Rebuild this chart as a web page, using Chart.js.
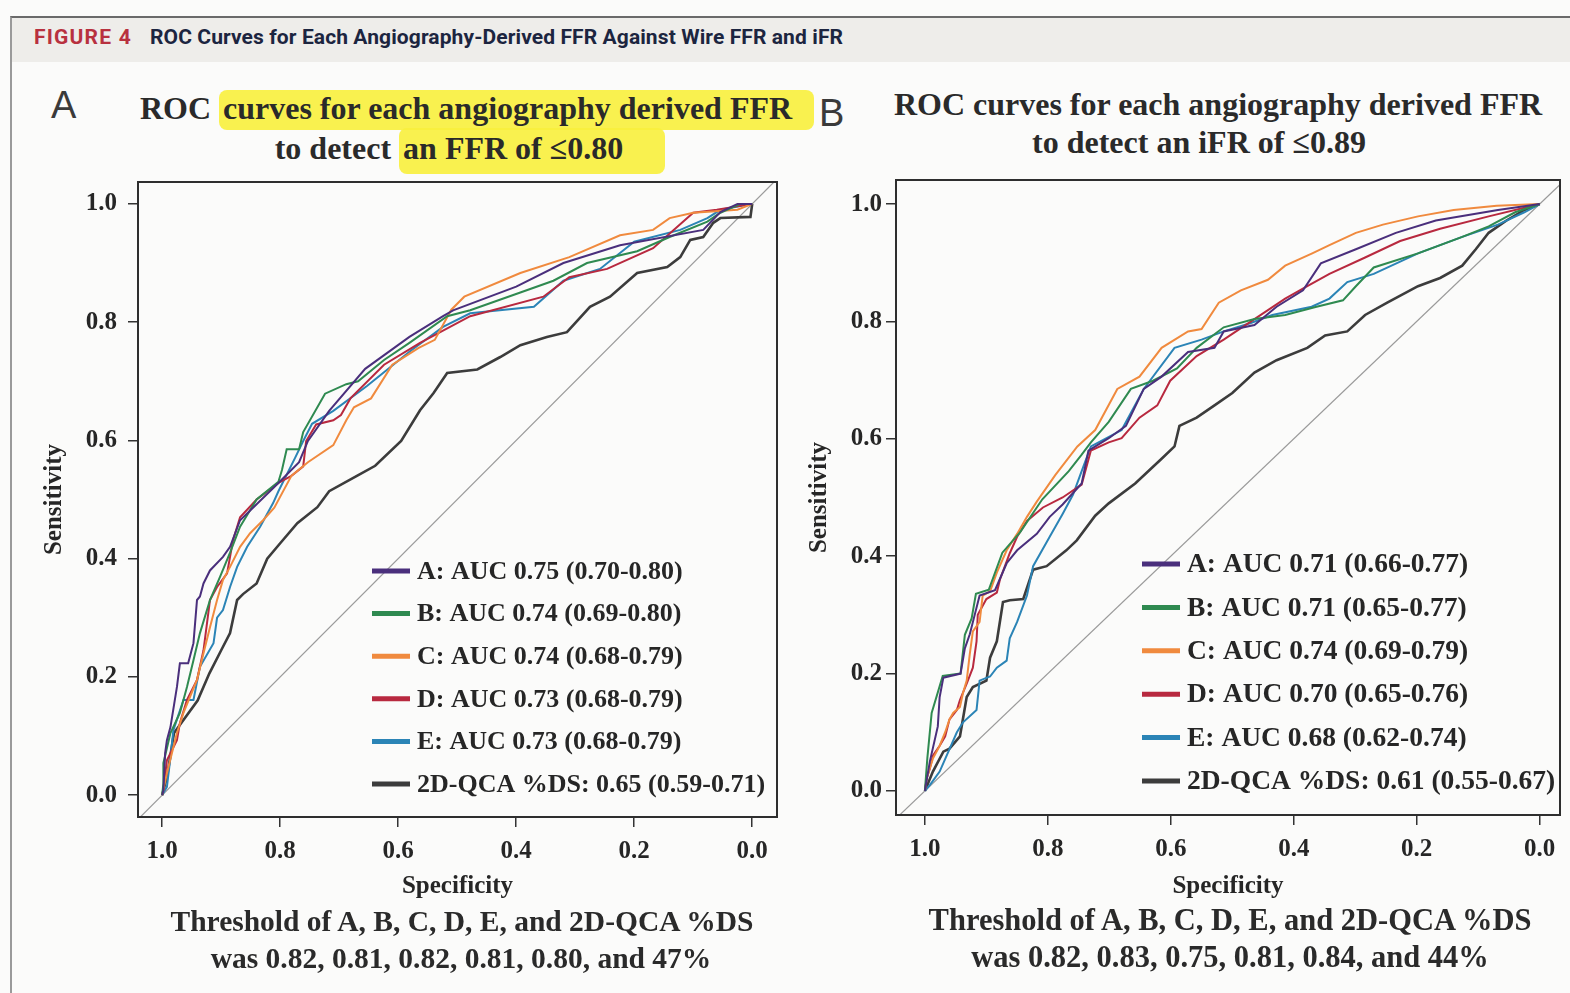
<!DOCTYPE html>
<html>
<head>
<meta charset="utf-8">
<script src="https://cdn.jsdelivr.net/npm/chart.js@4"></script>
<style>
  body { margin: 0; width: 1570px; height: 993px; background: #fbfbfa; position: relative; overflow: hidden; }
  .frame { position: absolute; left: 10px; top: 16px; right: 0; bottom: 0; border-left: 2px solid #9a9a9a; border-top: 2px solid #6a6a6a; }
  .band { position: absolute; left: 12px; top: 18px; right: 0; height: 44px; background: #eeedea; }
  .fig { position: absolute; top: 24px; font-family: Roboto, sans-serif; font-weight: 700; font-size: 21px; line-height: 26px; }
  .panel-lab { position: absolute; font-family: "Liberation Sans", Arial, sans-serif; font-size: 38px; color: #3a3a3a; line-height: 40px; }
  .ttl { position: absolute; width: 900px; text-align: center; font-family: "Liberation Serif", serif; font-weight: 700; font-size: 32px; line-height: 38px; color: #2a2a2a; white-space: nowrap; }
  .hl { background: rgba(248, 240, 60, 0.9); border-radius: 8px; }
  .note { position: absolute; width: 900px; text-align: center; font-family: "Liberation Serif", serif; font-weight: 700; font-size: 29.5px; line-height: 34px; color: #2a2a2a; white-space: nowrap; }
  .wrap { position: absolute; }
</style>
</head>
<body>
<div class="band"></div>
<div class="frame"></div>
<div class="fig" style="left:34px;color:#b8313f;letter-spacing:1.2px;">FIGURE 4</div>
<div class="fig" style="left:150px;color:#1c2540;letter-spacing:0.1px;">ROC Curves for Each Angiography-Derived FFR Against Wire FFR and iFR</div>

<div class="panel-lab" style="left:51px;top:85px;">A</div>
<div class="panel-lab" style="left:819px;top:93px;">B</div>

<div class="ttl" style="left:27px;top:89px;">ROC <span class="hl" style="padding:0 22px 4px 4px;">curves for each angiography derived FFR</span></div>
<div class="ttl" style="left:20px;top:129px;">to detect <span class="hl" style="padding:2px 42px 8px 4px;">an FFR of ≤0.80</span></div>
<div class="ttl" style="left:768px;top:85px;">ROC curves for each angiography derived FFR</div>
<div class="ttl" style="left:749px;top:123px;">to detect an iFR of ≤0.89</div>

<div class="wrap" style="left:20px;top:170px;width:780px;height:740px;"><canvas id="chartA"></canvas></div>
<div class="wrap" style="left:800px;top:168px;width:770px;height:740px;"><canvas id="chartB"></canvas></div>

<div class="note" style="left:12px;top:904px;">Threshold of A, B, C, D, E, and 2D-QCA %DS</div>
<div class="note" style="left:11px;top:941px;">was 0.82, 0.81, 0.82, 0.81, 0.80, and 47%</div>
<div class="note" style="left:780px;top:903px;font-size:30.5px;">Threshold of A, B, C, D, E, and 2D-QCA %DS</div>
<div class="note" style="left:780px;top:940px;font-size:30.5px;">was 0.82, 0.83, 0.75, 0.81, 0.84, and 44%</div>

<script>
// axis ticks
const tickValues = [0, 0.2, 0.4, 0.6, 0.8, 1.0];

// --- panel A: FFR <= 0.80 ---
const labelsFFR = ['A: AUC 0.75 (0.70-0.80)', 'B: AUC 0.74 (0.69-0.80)', 'C: AUC 0.74 (0.68-0.79)',
                   'D: AUC 0.73 (0.68-0.79)', 'E: AUC 0.73 (0.68-0.79)', '2D-QCA %DS: 0.65 (0.59-0.71)'];

const ffrSpecA = [1, .998, .995, .992, .986, .975, .97, .956, .947, .941, .936, .93, .919, .897, .885, .868, .84, .803, .768, .753, .717, .656, .581, .524, .507, .40, .32, .224, .083, .054, .025, 0];
const ffrSensA = [0, .008, .071, .093, .115, .183, .223, .223, .257, .33, .336, .358, .38, .403, .42, .465, .492, .528, .563, .599, .65, .721, .775, .81, .82, .86, .90, .93, .956, .986, 1, 1];

const ffrSpecB = [1, .998, .998, .986, .97, .958, .947, .936, .919, .902, .885, .868, .84, .803, .797, .789, .768, .761, .724, .688, .668, .624, .581, .517, .478, .393, .337, .28, .195, .14, .076, .054, .02, 0];
const ffrSensB = [0, .02, .054, .105, .139, .183, .228, .274, .33, .369, .41, .454, .50, .53, .55, .585, .585, .614, .679, .695, .70, .736, .765, .81, .82, .85, .87, .90, .92, .944, .97, .985, 1, 1];

const ffrSpecC = [1, .992, .975, .964, .941, .93, .919, .907, .897, .885, .868, .851, .829, .81, .781, .753, .71, .688, .675, .646, .61, .566, .538, .51, .488, .393, .31, .224, .168, .14, .10, .025, 0];
const ffrSensC = [0, .037, .105, .139, .195, .24, .284, .33, .364, .386, .42, .443, .465, .486, .54, .563, .592, .634, .656, .671, .728, .756, .77, .821, .843, .883, .91, .947, .956, .976, .985, .99, 1];

const ffrSpecD = [1, .998, .992, .975, .97, .958, .941, .93, .919, .907, .89, .88, .868, .84, .803, .781, .761, .756, .739, .71, .697, .681, .624, .563, .478, .354, .31, .246, .168, .10, .06, 0];
const ffrSensD = [0, .008, .059, .093, .122, .161, .195, .245, .33, .352, .375, .431, .47, .50, .528, .54, .556, .599, .627, .634, .643, .671, .728, .765, .81, .843, .876, .89, .925, .985, .99, 1];

const ffrSpecE = [1, .992, .986, .981, .964, .947, .936, .913, .907, .897, .885, .873, .856, .834, .812, .803, .775, .761, .746, .71, .653, .581, .524, .478, .37, .32, .258, .20, .122, .076, .054, 0];
const ffrSensE = [0, .014, .064, .11, .161, .161, .217, .257, .30, .313, .352, .386, .42, .454, .494, .514, .57, .599, .628, .65, .692, .75, .792, .815, .826, .87, .89, .936, .956, .976, .99, 1];

const ffrSpecQ = [1, .998, .992, .98, .94, .92, .90, .885, .873, .863, .84, .822, .80, .771, .737, .717, .67, .639, .595, .563, .54, .517, .466, .427, .393, .348, .314, .275, .241, .195, .144, .122, .105, .083, .066, .054, .003, 0];
const ffrSensQ = [0, .008, .03, .105, .16, .206, .245, .274, .33, .34, .358, .40, .426, .46, .487, .514, .54, .557, .599, .651, .68, .714, .72, .741, .761, .775, .783, .826, .843, .883, .893, .91, .939, .944, .968, .976, .978, 1];

// --- panel B: iFR <= 0.89 ---
const labelsIFR = ['A: AUC 0.71 (0.66-0.77)', 'B: AUC 0.71 (0.65-0.77)', 'C: AUC 0.74 (0.69-0.79)',
                   'D: AUC 0.70 (0.65-0.76)', 'E: AUC 0.68 (0.62-0.74)', '2D-QCA %DS: 0.61 (0.55-0.67)'];

const ifrSpecA = [1, .992, .979, .976, .97, .942, .935, .927, .919, .911, .886, .867, .85, .818, .797, .776, .745, .734, .701, .673, .644, .615, .572, .529, .514, .464, .428, .385, .356, .299, .234, .169, .068, 0];
const ifrSensA = [0, .05, .11, .16, .193, .20, .243, .267, .30, .333, .342, .388, .41, .438, .467, .488, .524, .58, .601, .622, .685, .706, .748, .755, .783, .794, .825, .853, .899, .923, .951, .972, .99, 1];

const ifrSpecB = [1, .996, .989, .971, .942, .935, .924, .917, .896, .874, .845, .809, .766, .745, .73, .701, .665, .629, .59, .558, .514, .464, .414, .363, .32, .299, .27, .198, .126, .083, .04, 0];
const ifrSensB = [0, .056, .133, .196, .20, .266, .294, .336, .343, .406, .441, .497, .545, .573, .594, .629, .685, .699, .72, .755, .79, .804, .811, .825, .836, .86, .892, .916, .944, .962, .986, 1];

const ifrSpecC = [1, .997, .987, .976, .967, .96, .954, .943, .938, .932, .927, .922, .911, .906, .894, .883, .867, .85, .834, .818, .788, .752, .723, .687, .651, .615, .572, .55, .522, .486, .442, .414, .37, .342, .299, .255, .198, .14, .07, 0];
const ifrSensC = [0, .022, .055, .077, .10, .122, .133, .143, .167, .188, .233, .272, .288, .333, .34, .372, .41, .438, .467, .493, .538, .587, .615, .685, .706, .755, .783, .787, .832, .853, .871, .895, .916, .93, .951, .965, .979, .99, .997, 1];

const ifrSpecD = [1, .997, .992, .987, .976, .967, .96, .948, .943, .932, .922, .916, .914, .90, .883, .878, .862, .85, .834, .808, .776, .745, .73, .701, .68, .651, .622, .601, .558, .514, .464, .414, .378, .342, .284, .227, .162, .083, 0];
const ifrSensD = [0, .022, .038, .06, .077, .093, .122, .138, .155, .183, .21, .255, .30, .327, .338, .36, .405, .433, .46, .483, .50, .522, .58, .594, .601, .636, .657, .699, .741, .769, .804, .839, .86, .881, .909, .937, .958, .979, 1];

const ifrSpecE = [1, .992, .976, .948, .938, .916, .911, .894, .883, .867, .862, .85, .834, .824, .797, .776, .759, .745, .73, .68, .644, .594, .55, .514, .471, .435, .371, .342, .313, .27, .198, .126, .068, .025, 0];
const ifrSensE = [0, .01, .033, .10, .117, .138, .188, .195, .21, .222, .26, .288, .333, .383, .433, .472, .505, .545, .587, .615, .685, .755, .769, .783, .797, .811, .825, .839, .867, .881, .916, .944, .965, .986, 1];

const ifrSpecQ = [1, .987, .97, .96, .943, .932, .922, .90, .894, .883, .873, .862, .84, .824, .802, .77, .753, .723, .701, .658, .615, .594, .586, .558, .529, .50, .464, .428, .378, .349, .313, .284, .248, .198, .162, .126, .104, .083, .054, .025, 0];
const ifrSensQ = [0, .033, .067, .072, .093, .16, .177, .188, .227, .255, .322, .325, .327, .377, .383, .41, .427, .469, .49, .524, .566, .587, .622, .636, .657, .678, .713, .734, .755, .776, .783, .811, .832, .86, .874, .895, .923, .951, .972, .99, 1];

// chance line, corner to corner
const chanceSpec = [1.1, -0.1];
const chanceSens = [-0.1, 1.1];

const curveColors = ['#4a2f7c', '#2f8a50', '#f08a3e', '#b8293f', '#2b84b6', '#3c3c3c'];
const serif = '"Liberation Serif", "Times New Roman", serif';
const inkColor = '#262626';

const toPoints = (xs, ys) => xs.map((x, i) => ({ x: x, y: ys[i] }));

// box round the plot + legend inside the plot area
const boxLegend = {
    id: 'boxLegend',
    afterDraw(chart, args, opts) {
        const { ctx, chartArea: a } = chart;
        ctx.save();
        ctx.strokeStyle = '#2e2e2e';
        ctx.lineWidth = 2;
        ctx.strokeRect(a.left, a.top, a.width, a.height);

        ctx.font = 'bold ' + opts.fontSize + 'px ' + serif;
        ctx.textBaseline = 'middle';
        ctx.textAlign = 'left';
        let row = 0;
        chart.data.datasets.forEach(ds => {
            if (!ds.label) return;
            const y = a.top + opts.top + row * opts.gap;
            const x = a.left + opts.left;
            ctx.strokeStyle = ds.borderColor;
            ctx.lineWidth = 5;
            ctx.beginPath();
            ctx.moveTo(x, y);
            ctx.lineTo(x + 38, y);
            ctx.stroke();
            ctx.fillStyle = inkColor;
            ctx.fillText(ds.label, x + 45, y + 1);
            row++;
        });
        ctx.restore();
    }
};

// drop the label overhang padding so the plot box lands where it should
const noOverhang = s => { s.paddingTop = 0; s.paddingBottom = 0; s.paddingLeft = 0; s.paddingRight = 0; };

function makePanel(id, labels, curves, p) {
    const datasets = curves.map((c, i) => ({
        label: labels[i],
        data: toPoints(c[0], c[1]),
        borderColor: curveColors[i],
        borderWidth: i === 5 ? 2.6 : 2,
        pointRadius: 0,
        tension: 0,
        fill: false
    }));
    datasets.push({
        label: '',
        data: toPoints(chanceSpec, chanceSens),
        borderColor: '#9a9a9a',
        borderWidth: 1.2,
        pointRadius: 0
    });

    const tickFont = { family: serif, weight: 'bold', size: 25 };
    const titleFont = { family: serif, weight: 'bold', size: 25 };

    new Chart(document.getElementById(id), {
        type: 'line',
        data: { datasets },
        options: {
            responsive: true,
            maintainAspectRatio: false,
            animation: false,
            layout: { padding: { top: 12, right: p.padRight, left: 0, bottom: 0 } },
            plugins: {
                legend: { display: false },
                tooltip: { enabled: false },
                boxLegend: p.legend
            },
            scales: {
                x: {
                    type: 'linear',
                    reverse: true,
                    min: p.xMin,
                    max: p.xMax,
                    afterBuildTicks: s => { s.ticks = tickValues.map(v => ({ value: v })); },
                    afterFit: s => { s.height = 93; noOverhang(s); },
                    ticks: { callback: v => v.toFixed(1), font: tickFont, color: inkColor, padding: 10, maxRotation: 0, autoSkip: false },
                    grid: { drawOnChartArea: false, tickLength: 10, color: '#333', lineWidth: 1.5 },
                    border: { display: false },
                    title: { display: true, text: 'Specificity', font: titleFont, color: inkColor, padding: { top: 0, bottom: p.xTitlePad } }
                },
                y: {
                    type: 'linear',
                    min: p.yMin,
                    max: p.yMax,
                    afterBuildTicks: s => { s.ticks = tickValues.map(v => ({ value: v })); },
                    afterFit: s => { s.width = p.yWidth; noOverhang(s); },
                    ticks: { callback: v => v.toFixed(1), font: tickFont, color: inkColor, padding: p.yTickPad, autoSkip: false },
                    grid: { drawOnChartArea: false, tickLength: 10, color: '#333', lineWidth: 1.5 },
                    border: { display: false },
                    title: { display: true, text: 'Sensitivity', font: titleFont, color: inkColor, padding: { top: p.yTitlePad, bottom: 0 } }
                }
            }
        },
        plugins: [boxLegend]
    });
}

makePanel('chartA', labelsFFR, [
    [ffrSpecA, ffrSensA], [ffrSpecB, ffrSensB], [ffrSpecC, ffrSensC],
    [ffrSpecD, ffrSensD], [ffrSpecE, ffrSensE], [ffrSpecQ, ffrSensQ]
], {
    xMin: -0.042, xMax: 1.041, yMin: -0.037, yMax: 1.037,
    padRight: 23, yWidth: 118, yTickPad: 11, yTitlePad: 20, xTitlePad: 8,
    legend: { left: 234, top: 389, gap: 42.6, fontSize: 26 }
});

makePanel('chartB', labelsIFR, [
    [ifrSpecA, ifrSensA], [ifrSpecB, ifrSensB], [ifrSpecC, ifrSensC],
    [ifrSpecD, ifrSensD], [ifrSpecE, ifrSensE], [ifrSpecQ, ifrSensQ]
], {
    xMin: -0.033, xMax: 1.047, yMin: -0.041, yMax: 1.041,
    padRight: 10, yWidth: 96, yTickPad: 4, yTitlePad: 5, xTitlePad: 6,
    legend: { left: 246, top: 384, gap: 43.4, fontSize: 27.5 }
});
</script>
</body>
</html>
